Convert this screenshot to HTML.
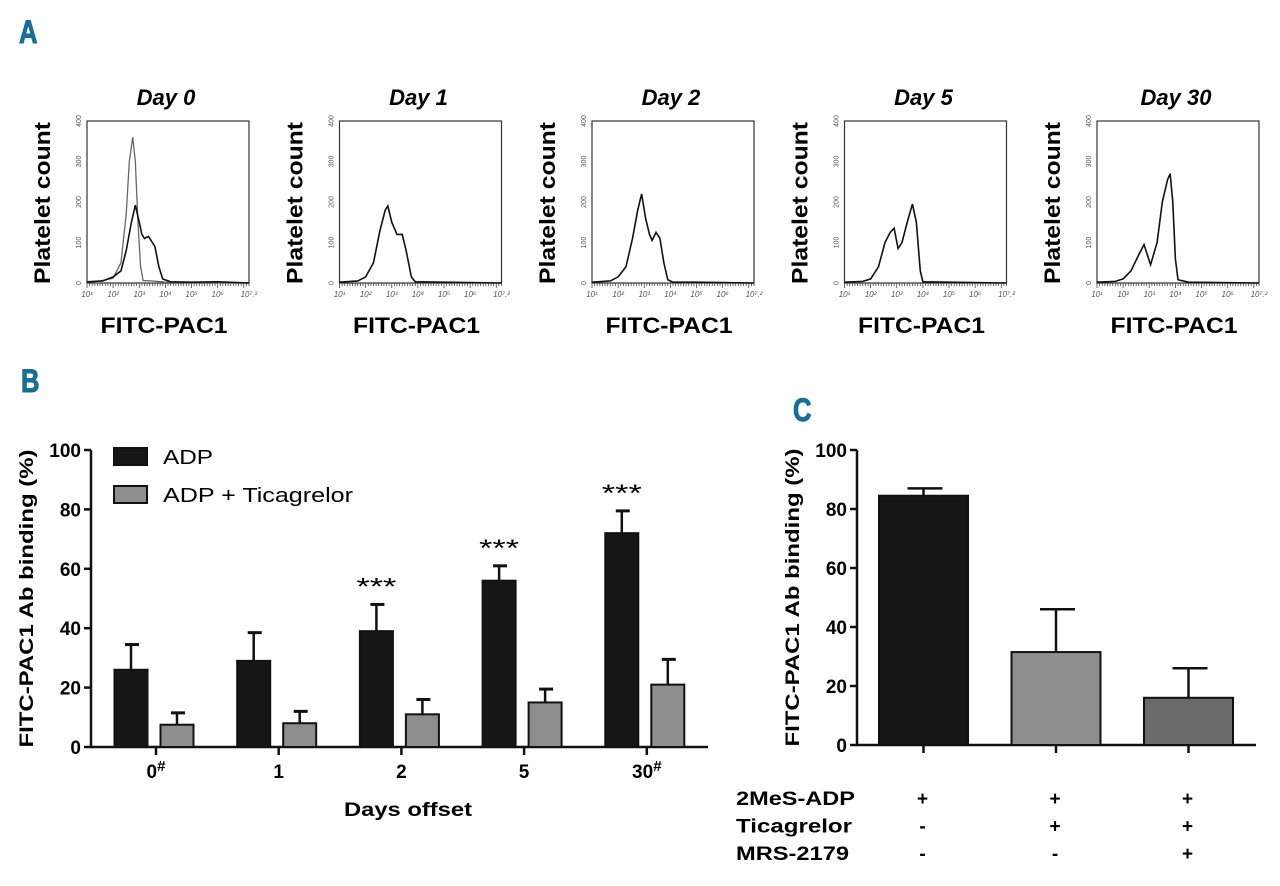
<!DOCTYPE html>
<html><head><meta charset="utf-8"><style>
body{margin:0;background:#fff;width:1280px;height:886px;overflow:hidden}
svg{display:block;font-family:"Liberation Sans",sans-serif}
</style></head><body>
<svg id="fig" width="1280" height="886" viewBox="0 0 1280 886">
<g fill="#1a6e96" font-weight="bold" font-size="32" font-family="'Liberation Sans Narrow','Liberation Sans',sans-serif" stroke="#1a6e96" stroke-width="1">
<text x="19" y="43" transform="translate(19,43) scale(0.8,1) translate(-19,-43)">A</text>
<text x="21" y="392" transform="translate(21,392) scale(0.8,1) translate(-21,-392)">B</text>
<text x="793" y="421" transform="translate(793,421) scale(0.8,1) translate(-793,-421)">C</text>
</g>
<g id="histos"></g>
<g id="chartB"></g>
<g id="chartC"></g>
</svg>
<script>
// ---- Panel A data (log10 fluorescence, platelet count)
const histDays = ["Day 0","Day 1","Day 2","Day 5","Day 30"];
const day0Gray = [[1,2],[1.5,5],[2,12],[2.3,50],[2.5,170],[2.62,300],[2.75,360],[2.85,300],[2.95,150],[3.05,40],[3.15,6],[3.5,5],[4,2],[7.2,0]];
const day0Black = [[1,3],[1.6,5],[2,15],[2.3,30],[2.5,80],[2.7,150],[2.85,192],[3.0,150],[3.1,120],[3.2,110],[3.35,115],[3.5,100],[3.6,90],[3.75,40],[3.9,10],[4.2,3],[5,2],[6,3],[7.2,0]];
const day1 = [[1,2],[1.7,5],[2,15],[2.3,50],[2.55,130],[2.75,180],[2.85,190],[3.0,150],[3.2,120],[3.4,120],[3.55,80],[3.75,15],[3.9,3],[5,2],[7.2,0]];
const day2 = [[1,2],[1.7,5],[2,15],[2.3,40],[2.55,110],[2.75,180],[2.9,220],[3.05,160],[3.2,120],[3.3,105],[3.45,125],[3.6,110],[3.75,50],[3.9,8],[4.1,2],[5,2],[7.2,0]];
const day5 = [[1,2],[1.7,4],[2,10],[2.3,40],[2.55,100],[2.75,125],[2.9,135],[3.05,85],[3.2,100],[3.4,150],[3.6,195],[3.75,150],[3.9,30],[4.0,3],[5,2],[7.2,0]];
const day30 = [[1,2],[1.7,4],[2,10],[2.3,30],[2.6,70],[2.8,95],[3.05,45],[3.3,100],[3.5,200],[3.7,255],[3.8,270],[3.9,200],[4.0,60],[4.1,8],[4.5,2],[7.2,0]];
const histSeries = [[day0Gray,day0Black],[day1],[day2],[day5],[day30]];
const histYTicks = ["0","100","200","300","400"];
const histXTicks = ["10¹","10²","10³","10⁴","10⁵","10⁶","10⁷.²"];

// ---- Panel B data
const bDays = ["0","1","2","5","30"];
const bSup = ["#","","","","#"];
const adpMean = [26,29,39,56,72];
const adpErr = [8.5,9.5,9,5,7.5];
const ticMean = [7.5,8,11,15,21];
const ticErr = [4,4,5,4.5,8.5];
const bSig = ["","","***","***","***"];
const bYTicks = [0,20,40,60,80,100];

// ---- Panel C data
const cMean = [84.5,31.5,16];
const cErr = [2.5,14.5,10];
const cYTicks = [0,20,40,60,80,100];
const cRowLabels = ["2MeS-ADP","Ticagrelor","MRS-2179"];
const cRowLabelLen = [119,116,113];
const cRows = [["+","+","+"],["-","+","+"],["-","-","+"]];

const NS="http://www.w3.org/2000/svg";
function mk(parent,tag,attrs,text){const e=document.createElementNS(NS,tag);for(const k in attrs)e.setAttribute(k,attrs[k]);if(text!==undefined)e.textContent=text;parent.appendChild(e);return e;}

// ---- Panel A
const H=document.getElementById('histos');
histDays.forEach((d,i)=>{
  const L=87+i*252.5, R=L+162, T=121, B=283;
  const g=mk(H,'g',{});
  
  
  const xs=v=>L+(v-1)/6.2*(R-L), ys=v=>B-v/400*(B-T);
  const t=mk(g,'text',{x:(L+R)/2-2,y:105,'text-anchor':'middle','font-size':22,'font-weight':'bold','font-style':'italic'},d);
  
  
  const yt=mk(g,'text',{x:0,y:0,transform:`translate(${L-37},${(T+B)/2+1}) rotate(-90)`,'text-anchor':'middle','font-size':22,'font-weight':'bold',textLength:162,lengthAdjust:'spacingAndGlyphs'},'Platelet count');
  
  
  const xt=mk(g,'text',{x:(L+R)/2-4,y:333,'text-anchor':'middle','font-size':22,'font-weight':'bold',textLength:127,lengthAdjust:'spacingAndGlyphs'},'FITC-PAC1');
  
  
  const box=mk(g,'rect',{x:L,y:T,width:R-L,height:B-T,fill:'none',stroke:'#333','stroke-width':1.2});
  
  
  histYTicks.forEach((lab,j)=>{
    const y=ys(+lab);
    mk(g,'text',{x:0,y:0,transform:`translate(${L-6},${y}) rotate(-90)`,'text-anchor':'middle','font-size':7,fill:'#555'},lab);
  });
  histXTicks.forEach((lab,j)=>{
    const v=j<6?j+1:7.2;
    mk(g,'text',{x:xs(v),y:B+14,'text-anchor':'middle','font-size':8,fill:'#555','font-style':'italic'},lab);
  });
  for(let v=1;v<7.2;v+=0.1){mk(g,'line',{x1:xs(v),x2:xs(v),y1:B,y2:B+((Math.round(v*10)%10==0)?5:3),stroke:'#444','stroke-width':0.8});}
  histSeries[i].forEach((s,k)=>{
    const p=mk(g,'polyline',{points:s.map(q=>xs(q[0])+','+ys(q[1])).join(' '),fill:'none',stroke:(i==0&&k==0)?'#666':'#111','stroke-width':(i==0&&k==0)?1.3:1.6});
    
    
  });
});

// ---- Panel B
const GB=document.getElementById('chartB');
{
  const X0=91,X1=708,Y0=747,Y100=450;
  const y=v=>Y0-v/100*(Y0-Y100);
  const cx=i=>156+i*122.7;
  const ax=mk(GB,'path',{d:`M${X0},${Y100} V${Y0} H${X1}`,fill:'none',stroke:'#111','stroke-width':2.5});
  
  
  bYTicks.forEach(v=>{
    mk(GB,'line',{x1:X0-7,x2:X0,y1:y(v),y2:y(v),stroke:'#111','stroke-width':2.5});
    const t=mk(GB,'text',{x:X0-10,y:y(v)+7,'text-anchor':'end','font-size':19,'font-weight':'bold'},v);
    
    
  });
  const yt=mk(GB,'text',{x:0,y:0,transform:`translate(33,${(Y0+Y100)/2}) rotate(-90)`,'text-anchor':'middle','font-size':19,'font-weight':'bold',textLength:298,lengthAdjust:'spacingAndGlyphs'},'FITC-PAC1 Ab binding (%)');
  
  
  const xtt=mk(GB,'text',{x:408,y:816,'text-anchor':'middle','font-size':19,'font-weight':'bold',textLength:128,lengthAdjust:'spacingAndGlyphs'},'Days offset');
  
  
  bDays.forEach((d,i)=>{
    const c=cx(i);
    mk(GB,'line',{x1:c,x2:c,y1:Y0,y2:Y0+8,stroke:'#111','stroke-width':2.5});
    const t=mk(GB,'text',{x:c,y:778,'text-anchor':'middle','font-size':19,'font-weight':'bold'});
    
    
    t.appendChild(document.createTextNode(d));
    if(bSup[i]){const s=mk(t,'tspan',{dy:-7,'font-size':15},bSup[i]);}
    [[adpMean,adpErr,'#161616',-25],[ticMean,ticErr,'#8e8e8e',21]].forEach(([m,e,col,off],k)=>{
      const w=33, bx=c+off-w/2;
      const el=mk(GB,'line',{x1:bx+w/2,x2:bx+w/2,y1:y(m[i]),y2:y(m[i]+e[i]),stroke:'#111','stroke-width':2.5});
      
      
      mk(GB,'line',{x1:bx+w/2-6,x2:bx+w/2+8,y1:y(m[i]+e[i]),y2:y(m[i]+e[i]),stroke:'#111','stroke-width':3});
      const r=mk(GB,'rect',{x:bx,y:y(m[i]),width:w,height:Y0-y(m[i]),fill:col,stroke:'#111','stroke-width':2});
      
      
    });
    if(bSig[i]){
      const s=mk(GB,'text',{x:c-25,y:y(adpMean[i]+adpErr[i])-10,'text-anchor':'middle','font-size':24,textLength:40,lengthAdjust:'spacingAndGlyphs'},bSig[i]);
      
      
    }
  });
  const lg=mk(GB,'g',{});
  
  
  [['ADP','#161616',448,50],['ADP + Ticagrelor','#8e8e8e',486,190]].forEach(([l,c,yy,len])=>{
    const e=mk(lg,'g',{});
    
    
    mk(e,'rect',{x:114,y:yy,width:33,height:17,fill:c,stroke:'#111','stroke-width':2});
    mk(e,'text',{x:163,y:yy+16,'font-size':20,textLength:len,lengthAdjust:'spacingAndGlyphs'},l);
  });
}

// ---- Panel C
const GC=document.getElementById('chartC');
{
  const X0=857,X1=1256,Y0=745,Y100=450;
  const y=v=>Y0-v/100*(Y0-Y100);
  const cols=['#161616','#8e8e8e','#6a6a6a'];
  const cx=i=>923.5+i*132.5;
  const ax=mk(GC,'path',{d:`M${X0},${Y100} V${Y0} H${X1}`,fill:'none',stroke:'#111','stroke-width':2.5});
  
  
  cYTicks.forEach(v=>{
    mk(GC,'line',{x1:X0-7,x2:X0,y1:y(v),y2:y(v),stroke:'#111','stroke-width':2.5});
    const t=mk(GC,'text',{x:X0-10,y:y(v)+7,'text-anchor':'end','font-size':19,'font-weight':'bold'},v);
    
    
  });
  const yt=mk(GC,'text',{x:0,y:0,transform:`translate(799,${(Y0+Y100)/2}) rotate(-90)`,'text-anchor':'middle','font-size':19,'font-weight':'bold',textLength:298,lengthAdjust:'spacingAndGlyphs'},'FITC-PAC1 Ab binding (%)');
  
  
  cMean.forEach((m,i)=>{
    const c=cx(i),w=89;
    mk(GC,'line',{x1:c,x2:c,y1:Y0,y2:Y0+8,stroke:'#111','stroke-width':2.5});
    const el=mk(GC,'line',{x1:c,x2:c,y1:y(m),y2:y(m+cErr[i]),stroke:'#111','stroke-width':2.5});
    
    
    mk(GC,'line',{x1:c-16,x2:c+19,y1:y(m+cErr[i]),y2:y(m+cErr[i]),stroke:'#111','stroke-width':2.5});
    const r=mk(GC,'rect',{x:c-w/2,y:y(m),width:w,height:Y0-y(m),fill:cols[i],stroke:'#111','stroke-width':2});
    
    
  });
  cRowLabels.forEach((l,r)=>{
    const yy=805+r*27.5;
    const t=mk(GC,'text',{x:736,y:yy,'font-size':19,'font-weight':'bold',textLength:cRowLabelLen[r],lengthAdjust:'spacingAndGlyphs'},l);
    
    
    cRows[r].forEach((s,i)=>{
      const st=mk(GC,'text',{x:cx(i)-1,y:yy,'text-anchor':'middle','font-size':19,'font-weight':'bold'},s);
      
      
    });
  });
}
</script>
</body></html>
